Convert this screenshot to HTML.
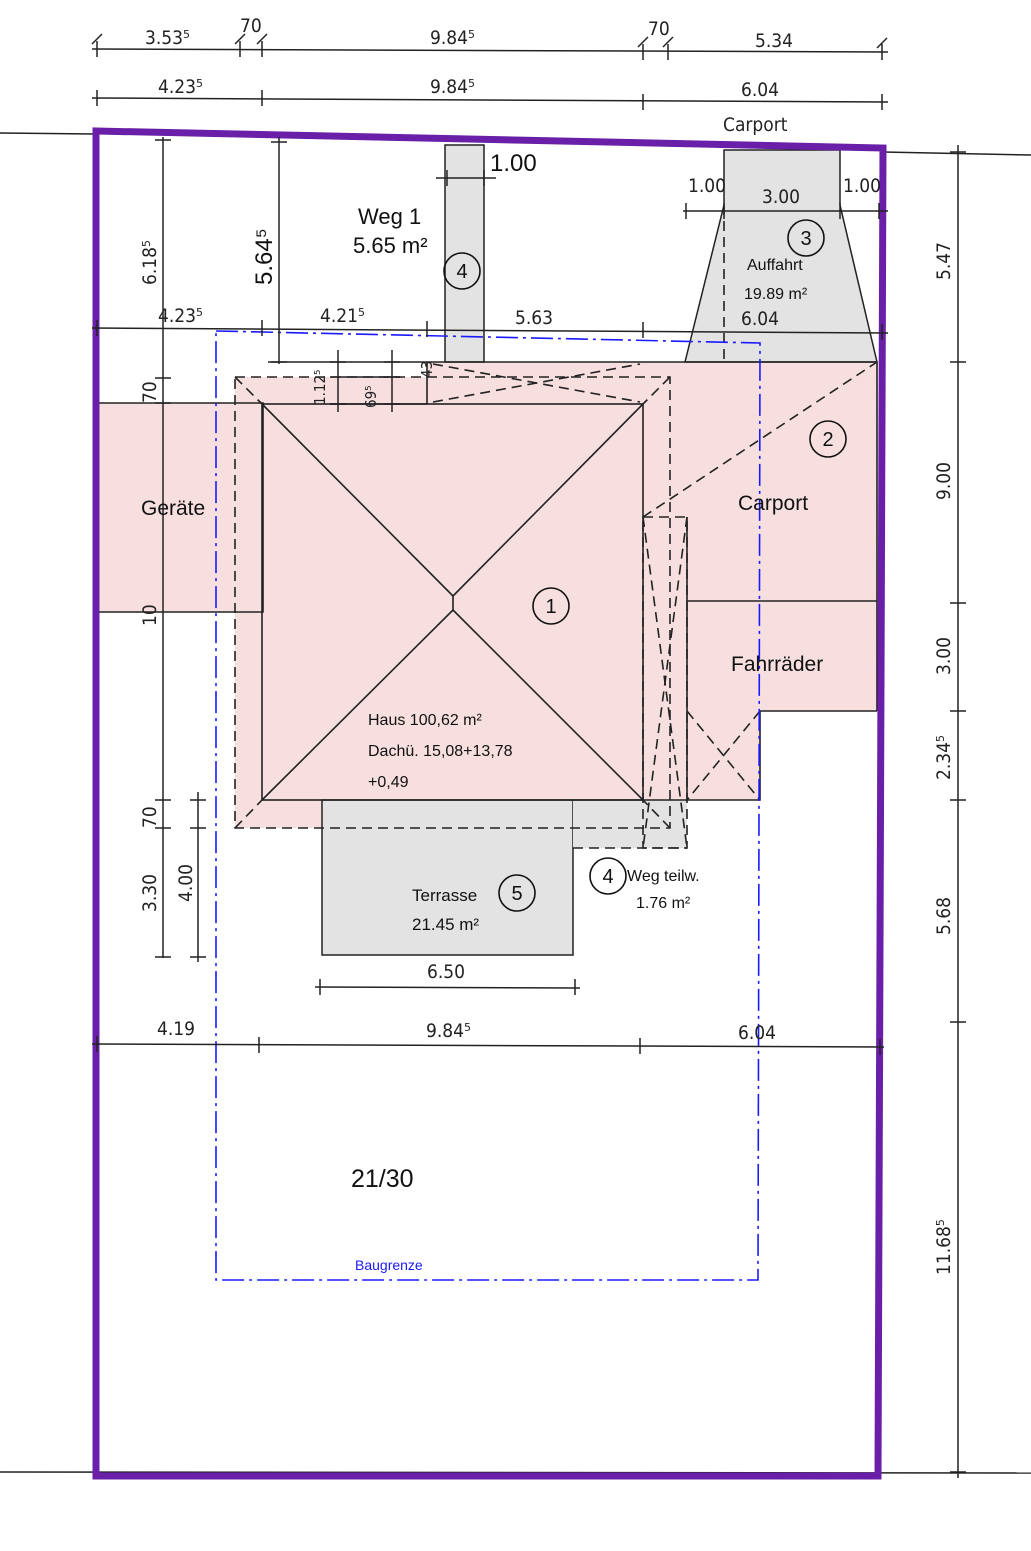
<!DOCTYPE html>
<html><head><meta charset="utf-8"><style>
html,body{margin:0;padding:0;background:#fff;}
svg{display:block;}
text{font-family:"Liberation Sans",sans-serif;fill:#111;}
.d{font-family:"DejaVu Sans Condensed","Liberation Sans Narrow","Liberation Sans",sans-serif;font-size:19px;fill:#222;}
</style></head><body>
<svg width="1031" height="1551" viewBox="0 0 1031 1551" xmlns="http://www.w3.org/2000/svg">
<rect width="1031" height="1551" fill="#fff"/>
<!-- outside plot lines -->
<g stroke="#222" stroke-width="1.5" fill="none">
<line x1="0" y1="133" x2="95" y2="134"/>
<line x1="884" y1="152" x2="1031" y2="155"/>
<line x1="0" y1="1472" x2="1031" y2="1473"/>
</g>
<!-- pink areas -->
<g fill="#f7dfdf" stroke="none">
<rect x="99" y="403" width="164" height="209"/>
<polygon points="235,377 427,377 427,362 877,362 877,711 760,711 760,800 670,800 670,828 235,828"/>
</g>
<!-- grey areas -->
<g fill="#e3e3e3" stroke="#222" stroke-width="1.5">
<rect x="445" y="145" width="39" height="217"/>
<polygon points="724,150 840,150 840,205 877,362 685,362 724,205"/>
<rect x="322" y="800" width="251" height="155"/>
<polygon points="573,800 687,800 687,848 573,848" stroke="none"/>
</g>
<g stroke="#222" stroke-width="1.6" fill="none">
<!-- Geräte -->
<polyline points="99,403 263,403 263,612 99,612"/>
<!-- house -->
<rect x="262" y="404" width="381" height="396"/>
<line x1="262" y1="404" x2="453" y2="596"/>
<line x1="643" y1="404" x2="453" y2="596"/>
<line x1="453" y1="596" x2="453" y2="610"/>
<line x1="453" y1="610" x2="262" y2="800"/>
<line x1="453" y1="610" x2="643" y2="800"/>
<line x1="427" y1="362" x2="877" y2="362"/>
<line x1="427" y1="362" x2="427" y2="404"/>
<!-- fahrräder -->
<polyline points="687,517 687,601 877,601"/>
<line x1="687" y1="601" x2="687" y2="800"/>
<polyline points="877,711 760,711 760,800 573,800"/>
<line x1="877" y1="362" x2="877" y2="711"/>
</g>
<g stroke="#222" stroke-width="1.6" fill="none" stroke-dasharray="10,6">
<rect x="235" y="377" width="435" height="451"/>
<line x1="235" y1="377" x2="262" y2="404"/>
<line x1="670" y1="377" x2="643" y2="404"/>
<line x1="235" y1="828" x2="262" y2="800"/>
<line x1="670" y1="828" x2="643" y2="800"/>
<line x1="433" y1="364" x2="640" y2="402"/>
<line x1="433" y1="402" x2="640" y2="364"/>
<line x1="643" y1="517" x2="877" y2="362"/>
<rect x="643" y="517" width="44" height="331"/>
<line x1="643" y1="517" x2="687" y2="848"/>
<line x1="687" y1="517" x2="643" y2="848"/>
<line x1="687" y1="711" x2="760" y2="800"/>
<line x1="760" y1="711" x2="687" y2="800"/>
<line x1="573" y1="848" x2="687" y2="848"/>
<line x1="724" y1="205" x2="724" y2="362"/>
</g>
<!-- Baugrenze -->
<polygon points="216,331 760,343 758,1280 216,1280" fill="none" stroke="#1a1aff" stroke-width="1.6" stroke-dasharray="22,5,3,5"/>
<!-- plot border -->
<polygon points="96,131 883,148 878,1476 96,1476" fill="none" stroke="#6a1fa8" stroke-width="7"/>
<!-- dimension lines -->
<g stroke="#222" stroke-width="1.5" fill="none">
<line x1="92" y1="49" x2="888" y2="52"/>
<line x1="92" y1="98" x2="888" y2="102"/>
<line x1="92" y1="328" x2="888" y2="333"/>
<line x1="92" y1="1044" x2="884" y2="1047"/>
<line x1="315" y1="987" x2="580" y2="988"/>
<line x1="683" y1="211" x2="888" y2="211"/>
<line x1="436" y1="178" x2="496" y2="178"/>
<line x1="958" y1="145" x2="958" y2="1478"/>
<line x1="163" y1="137" x2="163" y2="958"/>
<line x1="279" y1="137" x2="279" y2="364"/>
<line x1="198" y1="792" x2="198" y2="962"/>
<line x1="338" y1="350" x2="338" y2="412"/>
<line x1="392" y1="350" x2="392" y2="412"/>
<line x1="268" y1="362" x2="427" y2="362"/>
<line x1="330" y1="377" x2="400" y2="377"/>
<line x1="330" y1="404" x2="427" y2="404"/>
</g>
<g stroke="#222" stroke-width="1.5">
<!-- ticks -->
<path d="M92,44l10,-10M97,41v16 M235,44l10,-10M240,41v16 M257,44l10,-10M262,41v16 M638,47l10,-10M643,44v16 M663,47l10,-10M668,44v16 M877,48l10,-10M882,44v16"/>
<path d="M97,90v16 M262,90v16 M643,94v16 M882,94v16"/>
<path d="M97,320v16 M262,320v16 M427,321v16 M643,322v16 M882,324v16"/>
<path d="M97,1036v16 M259,1037v16 M640,1038v16 M880,1039v16"/>
<path d="M320,979v16 M575,979v16 M686,203v16 M724,203v16 M840,203v16 M879,203v16 M447,170v16 M484,170v16"/>
<path d="M950,152h16 M950,362h16 M950,603h16 M950,711h16 M950,800h16 M950,1022h16 M950,1472h16"/>
<path d="M155,140h16 M155,378h16 M155,403h16 M155,800h16 M155,828h16 M155,957h16 M271,142h16 M271,362h16 M190,800h16 M190,828h16 M190,957h16"/>
<path d="M330,362h16 M330,404h16 M384,362h16 M384,377h16 M384,404h16"/>
</g>
<!-- dimension text -->
<text class="d" x="145" y="44">3.53⁵</text>
<text class="d" x="240" y="32">70</text>
<text class="d" x="430" y="44">9.84⁵</text>
<text class="d" x="648" y="35">70</text>
<text class="d" x="755" y="47">5.34</text>
<text class="d" x="158" y="93">4.23⁵</text>
<text class="d" x="430" y="93">9.84⁵</text>
<text class="d" x="741" y="96">6.04</text>
<text class="d" x="723" y="131">Carport</text>
<text class="d" x="158" y="322">4.23⁵</text>
<text class="d" x="320" y="322">4.21⁵</text>
<text class="d" x="515" y="324">5.63</text>
<text class="d" x="157" y="1035">4.19</text>
<text class="d" x="426" y="1037">9.84⁵</text>
<text class="d" x="738" y="1039">6.04</text>
<text class="d" x="427" y="978">6.50</text>
<text class="d" x="688" y="192">1.00</text>
<text class="d" x="762" y="203">3.00</text>
<text class="d" x="843" y="192">1.00</text>
<text class="d" x="741" y="325">6.04</text>
<text style="font-size:24px" x="490" y="171">1.00</text>
<text class="d" transform="translate(156,285) rotate(-90)">6.18⁵</text>
<text style="font-size:24px" transform="translate(272,285) rotate(-90)">5.64⁵</text>
<text class="d" transform="translate(156,403) rotate(-90)">70</text>
<text class="d" transform="translate(156,828) rotate(-90)">70</text>
<text class="d" transform="translate(156,912) rotate(-90)">3.30</text>
<text class="d" transform="translate(192,902) rotate(-90)">4.00</text>
<text class="d" transform="translate(156,626) rotate(-90)">10</text>
<text class="d" style="font-size:15px" transform="translate(325,405) rotate(-90)">1.12⁵</text>
<text class="d" style="font-size:15px" transform="translate(376,408) rotate(-90)">69⁵</text>
<text class="d" style="font-size:15px" transform="translate(432,378) rotate(-90)">43</text>
<text class="d" transform="translate(950,280) rotate(-90)">5.47</text>
<text class="d" transform="translate(950,500) rotate(-90)">9.00</text>
<text class="d" transform="translate(950,675) rotate(-90)">3.00</text>
<text class="d" transform="translate(950,780) rotate(-90)">2.34⁵</text>
<text class="d" transform="translate(950,935) rotate(-90)">5.68</text>
<text class="d" transform="translate(950,1275) rotate(-90)">11.68⁵</text>
<!-- labels -->
<text style="font-size:22px" x="358" y="224">Weg 1</text>
<text style="font-size:22px" x="353" y="253">5.65 m²</text>
<text style="font-size:16px" x="747" y="270">Auffahrt</text>
<text style="font-size:16px" x="744" y="299">19.89 m²</text>
<text style="font-size:21px" x="141" y="515">Geräte</text>
<text style="font-size:21px" x="738" y="510">Carport</text>
<text style="font-size:21px" x="731" y="671">Fahrräder</text>
<text style="font-size:16px" x="368" y="725">Haus 100,62 m²</text>
<text style="font-size:16px" x="368" y="756">Dachü. 15,08+13,78</text>
<text style="font-size:16px" x="368" y="787">+0,49</text>
<text style="font-size:17px" x="412" y="901">Terrasse</text>
<text style="font-size:17px" x="412" y="930">21.45 m²</text>
<text style="font-size:16px" x="627" y="881">Weg teilw.</text>
<text style="font-size:16px" x="636" y="908">1.76 m²</text>
<text style="font-size:25px" x="351" y="1187">21/30</text>
<text style="font-size:14px;fill:#1a1aff" x="355" y="1270">Baugrenze</text>
<!-- circled numbers -->
<g fill="none" stroke="#111" stroke-width="1.6">
<circle cx="462" cy="271" r="18"/>
<circle cx="806" cy="238" r="18"/>
<circle cx="828" cy="439" r="18"/>
<circle cx="551" cy="606" r="18"/>
<circle cx="517" cy="893" r="18"/>
<circle cx="608" cy="876" r="18"/>
</g>
<g style="font-size:20px" text-anchor="middle">
<text x="462" y="278">4</text>
<text x="806" y="245">3</text>
<text x="828" y="446">2</text>
<text x="551" y="613">1</text>
<text x="517" y="900">5</text>
<text x="608" y="883">4</text>
</g>
</svg>
</body></html>
